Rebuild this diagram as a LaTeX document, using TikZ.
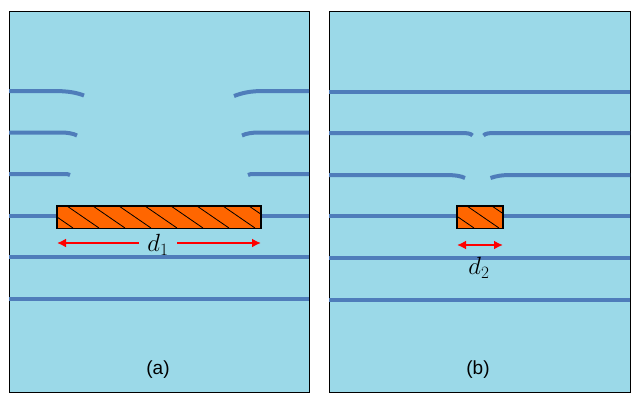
\documentclass[tikz,border=0pt]{standalone}
\usepackage[no-math]{fontspec}
\setmainfont{Liberation Sans}
\usetikzlibrary{arrows.meta}
\definecolor{bg}{HTML}{9BD9E8}
\definecolor{fl}{HTML}{4F7DBA}
\definecolor{barc}{HTML}{FF6600}
\definecolor{arc}{HTML}{FF0000}
\begin{document}
\begin{tikzpicture}[x=1pt,y=-1pt,
  panel/.style={draw=black, fill=bg, line width=1pt},
  fline/.style={draw=fl, line width=4pt},
  barbox/.style={draw=black, fill=barc, line width=1pt, inner sep=0pt, rectangle},
  hatch/.style={draw=black, line width=0.8pt},
  redarrow/.style={draw=arc, line width=2.4pt, arrows={-Latex[length=9pt,width=9pt]}},
  lbl/.style={font=\fontsize{19}{22}\selectfont, inner sep=0pt},
  dlbl/.style={font=\fontsize{25}{28}\selectfont, inner sep=0pt}]
\useasboundingbox (0,0) rectangle (640,400);
% panels
\draw[panel] (9,11) rectangle (309,392);
\draw[panel] (329,11) rectangle (630,392);
% ---- left panel lines
\draw[fline] (9,91) -- (53,91) .. controls (68,91) and (76,92.5) .. (84,95.5);
\draw[fline] (234,96) .. controls (242,93) and (250,91) .. (263,91) -- (309,91);
\draw[fline] (9,132.5) -- (60,132.5) .. controls (68,132.5) and (73,133.5) .. (77,135.5);
\draw[fline] (242,135.5) .. controls (246,133.5) and (252,132.5) .. (259,132.5) -- (309,132.5);
\draw[fline] (9,174) -- (64,174) .. controls (67,174) and (69,174.3) .. (70,175);
\draw[fline] (248,175) .. controls (249,174.3) and (251,174) .. (254,174) -- (309,174);
\draw[fline] (9,215.5) -- (60,215.5);
\draw[fline] (258,215.5) -- (309,215.5);
\draw[fline] (9,257) -- (309,257);
\draw[fline] (9,298.5) -- (309,298.5);
% ---- right panel lines
\draw[fline] (329,91.5) -- (630,91.5);
\draw[fline] (329,133) -- (462,133) .. controls (467,133) and (471,133.5) .. (472.5,135.5);
\draw[fline] (483.5,135.5) .. controls (485,133.5) and (489,133) .. (494,133) -- (630,133);
\draw[fline] (329,175) -- (445,175) .. controls (455,175) and (461,176) .. (465,178);
\draw[fline] (490.5,178) .. controls (496,176) and (502,175) .. (511,175) -- (630,175);
\draw[fline] (329,216) -- (460,216);
\draw[fline] (500,216) -- (630,216);
\draw[fline] (329,258) -- (630,258);
\draw[fline] (329,299.5) -- (630,299.5);
% ---- bars
\node[barbox, minimum width=203.4pt, minimum height=22.3pt] (bar1) at (159,217.2) {};
\begin{scope}
  \clip (bar1.south west) rectangle (bar1.north east);
  \foreach \x in {41,67,93,119,145,171,197,223,249} \draw[hatch] (\x,206) -- ++(32,22);
\end{scope}
\draw[line width=1pt] (bar1.south west) rectangle (bar1.north east);
\node[barbox, minimum width=45.4pt, minimum height=22.3pt] (bar2) at (480,217.2) {};
\begin{scope}
  \clip (bar2.south west) rectangle (bar2.north east);
  \foreach \x in {442,467,492} \draw[hatch] (\x,206) -- ++(32,22);
\end{scope}
\draw[line width=1pt] (bar2.south west) rectangle (bar2.north east);
% ---- dimension arrows
\node[dlbl, minimum width=38pt] (d1) at (158,245) {$d_1$};
\coordinate (d1l) at (57,243);
\coordinate (d1r) at (261,243);
\draw[redarrow] (d1.west |- d1l) -- (d1l);
\draw[redarrow] (d1.east |- d1r) -- (d1r);
\coordinate (d2l) at (457,245);
\coordinate (d2r) at (503,245);
\draw[redarrow, arrows={Latex[length=9pt,width=9pt]-Latex[length=9pt,width=9pt]}] (d2l) -- (d2r);
\node[dlbl] (d2) at (479,268) {$d_2$};
% ---- captions
\node[lbl] (ca) at (158,370) {(a)};
\node[lbl] (cb) at (478,370) {(b)};
\end{tikzpicture}
\end{document}
